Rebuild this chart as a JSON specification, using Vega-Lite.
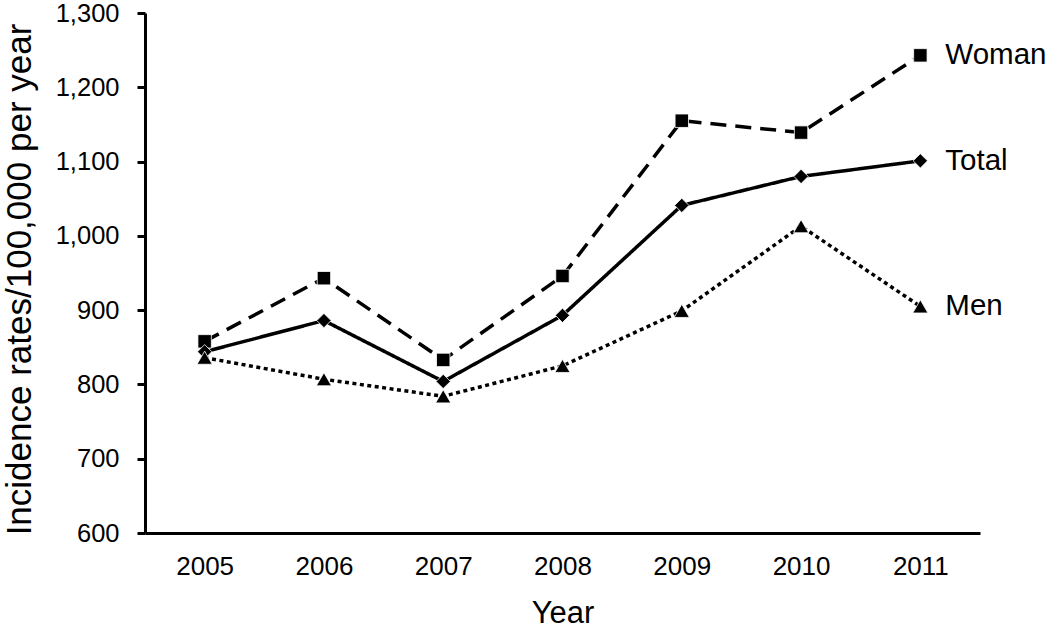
{
  "$schema": "https://vega.github.io/schema/vega-lite/v6.json",
  "width": 835,
  "height": 520,
  "autosize": {"type": "none"},
  "padding": {"left": 145, "top": 13, "right": 70, "bottom": 97},
  "background": "white",
  "config": {
    "view": {"stroke": null},
    "font": "Liberation Sans",
    "axis": {"grid": false, "domainColor": "black", "tickColor": "black", "labelColor": "black", "titleColor": "black", "labelFont": "Liberation Sans", "titleFont": "Liberation Sans", "titleFontWeight": "normal"}
  },
  "data": {
    "values": [
      {"year": "2005", "series": "Woman", "value": 858},
      {"year": "2006", "series": "Woman", "value": 943},
      {"year": "2007", "series": "Woman", "value": 833},
      {"year": "2008", "series": "Woman", "value": 946},
      {"year": "2009", "series": "Woman", "value": 1155},
      {"year": "2010", "series": "Woman", "value": 1139},
      {"year": "2011", "series": "Woman", "value": 1243},
      {"year": "2005", "series": "Total", "value": 844},
      {"year": "2006", "series": "Total", "value": 886},
      {"year": "2007", "series": "Total", "value": 804},
      {"year": "2008", "series": "Total", "value": 893},
      {"year": "2009", "series": "Total", "value": 1041},
      {"year": "2010", "series": "Total", "value": 1080},
      {"year": "2011", "series": "Total", "value": 1101},
      {"year": "2005", "series": "Men", "value": 836},
      {"year": "2006", "series": "Men", "value": 807},
      {"year": "2007", "series": "Men", "value": 784},
      {"year": "2008", "series": "Men", "value": 825},
      {"year": "2009", "series": "Men", "value": 899},
      {"year": "2010", "series": "Men", "value": 1013},
      {"year": "2011", "series": "Men", "value": 905}
    ]
  },
  "encoding": {
    "x": {
      "field": "year", "type": "ordinal",
      "scale": {"type": "point", "padding": 0.5},
      "axis": {
        "title": "Year", "labelAngle": 0, "labelFontSize": 26, "ticks": false, "tickSize": 0,
        "labelPadding": 20, "domainWidth": 3,
        "titleFontSize": 31, "titleX": 417.5, "titleY": 89, "titleBaseline": "alphabetic", "titleAlign": "center"
      }
    },
    "y": {
      "field": "value", "type": "quantitative",
      "scale": {"domain": [600, 1300], "nice": false, "zero": false},
      "axis": {
        "title": "Incidence rates/100,000 per year", "values": [600, 700, 800, 900, 1000, 1100, 1200, 1300],
        "format": ",.0f", "labelFontSize": 25.5, "tickSize": 8, "tickWidth": 3, "domainWidth": 3, "labelPadding": 18,
        "titleFontSize": 35, "titleAngle": -90, "titleX": -126, "titleY": 266, "titleBaseline": "middle", "titleAlign": "center"
      }
    }
  },
  "layer": [
    {
      "mark": {"type": "line", "color": "black", "strokeWidth": 3.5},
      "encoding": {
        "detail": {"field": "series"},
        "strokeDash": {
          "field": "series", "type": "nominal", "legend": null,
          "scale": {"domain": ["Woman", "Total", "Men"], "range": [[16, 9], [1, 0], [4, 3.5]]}
        }
      }
    },
    {
      "mark": {"type": "point", "filled": true, "color": "black", "opacity": 1, "stroke": "white", "strokeWidth": 0.8},
      "encoding": {
        "shape": {
          "field": "series", "type": "nominal", "legend": null,
          "scale": {"domain": ["Woman", "Total", "Men"], "range": ["square", "diamond", "triangle-up"]}
        },
        "size": {
          "field": "series", "type": "nominal", "legend": null,
          "scale": {"domain": ["Woman", "Total", "Men"], "range": [180, 230, 210]}
        }
      }
    },
    {
      "transform": [{"filter": "datum.year === '2011'"}],
      "mark": {"type": "text", "align": "left", "baseline": "middle", "dx": 25, "fontSize": 29.5, "color": "black", "font": "Liberation Sans"},
      "encoding": {"text": {"field": "series"}}
    }
  ]
}
